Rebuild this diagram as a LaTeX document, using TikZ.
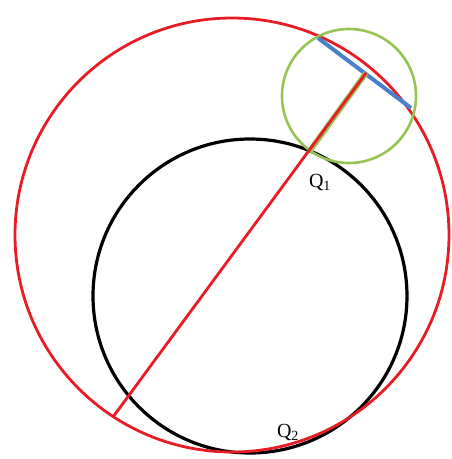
\documentclass[tikz,border=0pt]{standalone}
\usepackage{fontspec}
\setmainfont{Liberation Serif}
\definecolor{bigred}{RGB}{232,28,36}
\definecolor{lgreen}{RGB}{150,196,84}
\definecolor{lblue}{RGB}{72,128,204}
\begin{document}
\begin{tikzpicture}[x=1pt,y=-1pt,
  lbl/.style={font=\fontsize{20}{22}\selectfont, inner sep=0pt}]
\useasboundingbox (0,0) rectangle (452,459);
\coordinate (R) at (232,235);
\coordinate (B) at (250,296);
\coordinate (G) at (349,96);
\coordinate (A1) at (318,38);
\coordinate (A2) at (411,108);
\coordinate (M) at (366,73);
\coordinate (Q1) at (309,152);
\coordinate (L) at (113,417);
% circles
\draw[black, line width=3.2pt] (B) circle[radius=157];
\draw[bigred, line width=2.8pt] (R) circle[radius=217];
\draw[lgreen, line width=2.6pt] (G) circle[radius=67];
% lines
\draw[lblue, line width=4pt] (A1) -- (A2);
\draw[lgreen, line width=5.5pt] (Q1) -- (M);
\draw[bigred, line width=2.8pt] (L) -- (M);
% labels
\node[lbl] (q1) at (320,182) {Q\textsubscript{1}};
\node[lbl] (q2) at (288,432) {Q\textsubscript{2}};
\end{tikzpicture}
\end{document}
